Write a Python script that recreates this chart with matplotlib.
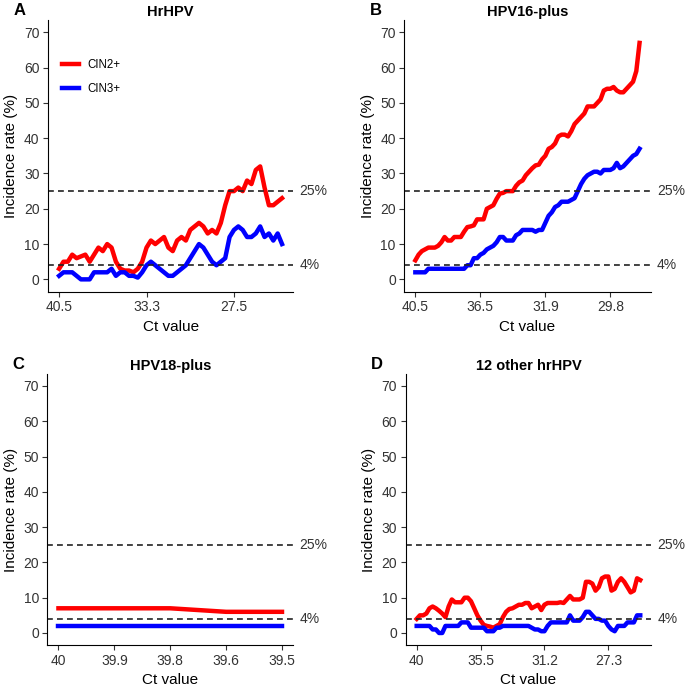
import matplotlib.pyplot as plt
import numpy as np

plt.rcParams["font.family"] = ["Liberation Sans", "DejaVu Sans"]

hr_cin2 = [3, 5, 5, 7, 6, 6.5, 7, 5, 7, 9, 8, 10, 9, 5, 3, 2.5, 2.5, 2, 3, 5,
           9, 11, 10, 11, 12, 9, 8, 11, 12, 11, 14, 15, 16, 15, 13, 14, 13, 16, 21, 25,
           25, 26, 25, 28, 27, 31, 32, 26, 21, 21, 22, 23]
hr_cin3 = [1, 2, 2, 2, 1, 0, 0, 0, 2, 2, 2, 2, 3, 1, 2, 2, 1, 1, 0.5, 2,
           4, 5, 4, 3, 2, 1, 1, 2, 3, 4, 6, 8, 10, 9, 7, 5, 4, 5, 6, 12,
           14, 15, 14, 12, 12, 13, 15, 12, 13, 11, 13, 10]
hr_ticks = ["40.5", "33.3", "27.5"]

p16_cin2 = [5.4, 7, 8, 8.5, 9, 9, 9, 9.5, 10.5, 12, 11, 11, 12, 12, 12, 13.5, 14.8, 15, 15.3, 17,
            17, 17, 20, 20.5, 21, 22.8, 24.3, 24.5, 25, 25, 25, 26.5, 27.5, 28, 29.5, 30.5, 31.5, 32.3, 32.5, 34,
            35, 37, 37.5, 38.5, 40.5, 41, 41, 40.5, 42, 44, 45, 46, 47, 49, 49, 49, 50, 51, 53.5, 54,
            54, 54.5, 53.5, 53, 53, 54, 55, 56, 59, 67]
p16_cin3 = [2, 2, 2, 2, 3, 3, 3, 3, 3, 3, 3, 3, 3, 3, 3, 3, 4, 4, 6, 6,
            7, 7.5, 8.5, 9, 9.5, 10.5, 12, 12, 11, 11, 11, 12.5, 13, 14, 14, 14, 14, 13.5, 14, 14,
            16, 18, 19, 20.5, 21, 22, 22, 22, 22.5, 23, 25, 27, 28.5, 29.5, 30, 30.5, 30.5, 30, 31, 31,
            31, 31.5, 33, 31.5, 32, 33, 34, 35, 35.5, 37]
p16_ticks = ["40.5", "36.5", "31.9", "29.8"]

p18_cin2 = [7, 7, 7, 6, 6]
p18_cin3 = [2, 2, 2, 2, 2]
p18_ticks = ["40", "39.9", "39.8", "39.6", "39.5"]

oth_cin2 = [4, 5, 5, 5.5, 7, 7.5, 7, 6.3, 5.5, 4.5, 7.5, 9.5, 8.7, 8.7, 8.7, 10, 10, 9, 7, 5,
            3.5, 2.3, 2, 1.8, 1.5, 2, 2.5, 4.5, 6, 6.8, 7, 7.5, 8, 8, 8.5, 8.5, 7, 7.5, 8, 6.5,
            8, 8.5, 8.5, 8.5, 8.5, 8.7, 8.5, 9.5, 10.5, 9.5, 9.5, 9.5, 10, 14.5, 14.5, 14, 12, 13, 15.5, 16,
            16, 12, 12.5, 14.5, 15.5, 14.5, 13, 11.5, 12, 15.5, 15]
oth_cin3 = [2, 2, 2, 2, 2, 1, 1, 0, 0, 2, 2, 2, 2, 2, 3, 3, 3, 1.5, 1.5, 1.5,
            1.5, 1.5, 0.5, 0.5, 0.5, 1.5, 1.5, 2, 2, 2, 2, 2, 2, 2, 2, 2, 1.5, 1, 1, 0.5,
            0.5, 2, 3, 3, 3, 3, 3, 3, 5, 3.5, 3.5, 3.5, 4.5, 6, 6, 5, 4, 4, 3.5, 3.5,
            2, 1, 0.5, 2, 2, 2, 3, 3, 3, 5, 5]
oth_ticks = ["40", "35.5", "31.2", "27.3"]

panels = [
    ("A", "HrHPV", hr_cin2, hr_cin3, hr_ticks, 20, [0.070, 0.576, 0.358, 0.395]),
    ("B", "HPV16-plus", p16_cin2, p16_cin3, p16_ticks, 20, [0.590, 0.576, 0.360, 0.395]),
    ("C", "HPV18-plus", p18_cin2, p18_cin3, p18_ticks, 1, [0.069, 0.062, 0.359, 0.395]),
    ("D", "12 other hrHPV", oth_cin2, oth_cin3, oth_ticks, 20, [0.592, 0.062, 0.359, 0.395]),
]

fig = plt.figure(figsize=(6.85, 6.88), dpi=100)

for letter, title, cin2, cin3, ticks, step, rect in panels:
    ax = fig.add_axes(rect)
    x = np.arange(len(cin2))
    ax.plot(x, cin2, color="#ff0000", lw=3.2, label="CIN2+")
    ax.plot(x, cin3, color="#0000ff", lw=3.2, label="CIN3+")
    for level, txt in [(25, "25%"), (4, "4%")]:
        ax.axhline(level, color="#222222", lw=1.2, ls=(0, (3.5, 2.5)))
        ax.text(1.025, level, txt, transform=ax.get_yaxis_transform(),
                va="center", ha="left", fontsize=10, color="#333333")
    ax.margins(x=0.05)
    ax.set_ylim(-3.5, 73.5)
    ax.set_yticks(range(0, 71, 10))
    ax.set_xticks(np.arange(len(ticks)) * step)
    ax.set_xticklabels(ticks)
    ax.tick_params(labelsize=10, labelcolor="#333333", color="#333333", length=3.5, pad=2.5)
    ax.spines[["top", "right"]].set_visible(False)
    ax.set_xlabel("Ct value", fontsize=11, labelpad=4)
    ax.set_ylabel("Incidence rate (%)", fontsize=11, labelpad=4)
    ax.set_title(title, fontsize=10.5, fontweight="bold", pad=2.5)
    ax.text(-0.14, 1.033, letter, transform=ax.transAxes, fontsize=12,
            fontweight="bold", ha="left", va="center")
    if letter == "A":
        ax.legend(loc="upper left", bbox_to_anchor=(0.038, 0.872), frameon=False,
                  fontsize=8.3, handlelength=1.5, handletextpad=0.7,
                  labelspacing=1.05, borderaxespad=0)

fig.savefig("out.png", dpi=100)
